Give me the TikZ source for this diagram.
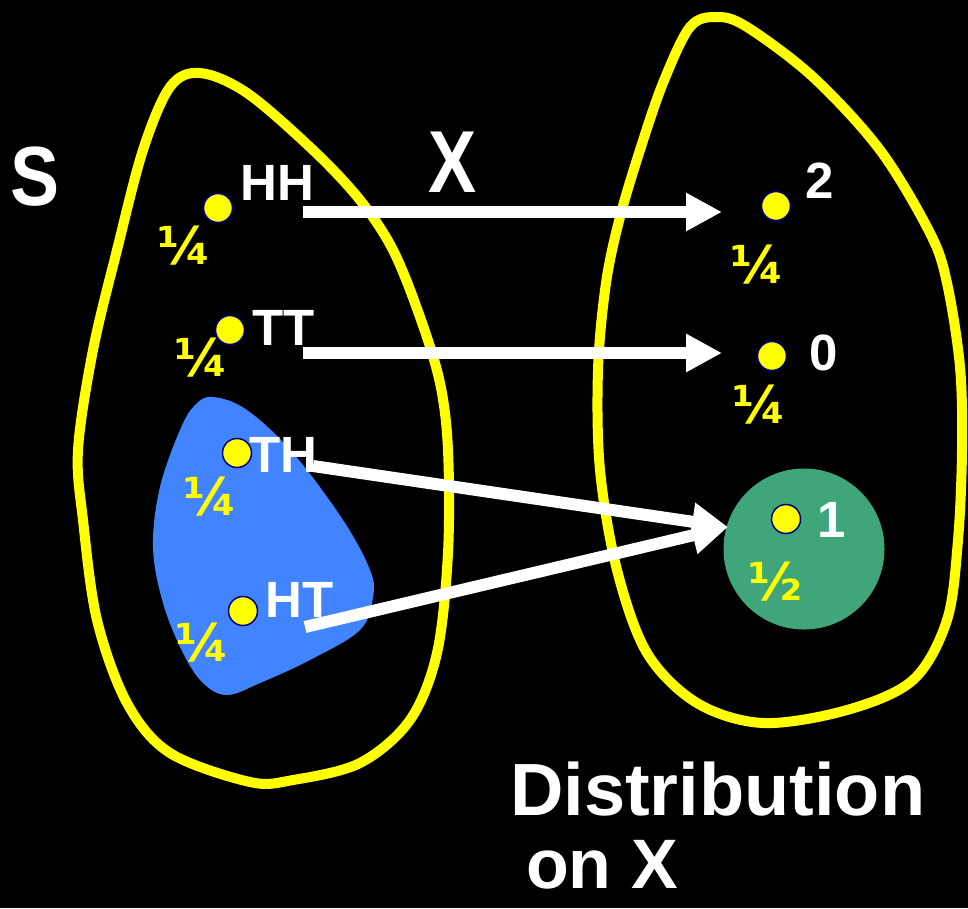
\documentclass[tikz,border=0pt]{standalone}
\usepackage{fontspec}
\setmainfont{Liberation Sans}
\newfontfamily\fracfont{DejaVu Sans}
\usetikzlibrary{arrows.meta}
\definecolor{ylw}{RGB}{255,255,0}
\definecolor{bluefill}{RGB}{66,132,255}
\definecolor{greenfill}{RGB}{62,166,122}
\definecolor{navy}{RGB}{0,0,128}
\tikzset{
  outline/.style={draw=ylw, line width=10pt},
  dot/.style={circle, fill=ylw, draw=navy, line width=1.5pt, minimum size=29pt, inner sep=0pt},
  lab/.style={anchor=base west, inner sep=0pt, text=white, font=\fontsize{51}{51}\selectfont\bfseries},
  frac/.style={inner sep=0pt, text=ylw, font=\fracfont\fontsize{52}{52}\selectfont\bfseries},
  big/.style={anchor=base west, inner sep=0pt, text=white, font=\fontsize{74}{74}\selectfont\bfseries},
  maparrow/.style={draw=white, line width=12pt, -{Triangle[length=36pt,width=36pt]}}
}
\begin{document}
\begin{tikzpicture}[x=1pt,y=-1pt]
\fill[black] (0,0) rectangle (968,908);
\useasboundingbox (0,0) rectangle (968,908);
% left set S
\draw[outline] plot[smooth cycle, tension=0.55] coordinates {
 (200,73) (247,93) (313,150) (360,200) (393,250) (420,317) (440,383) (448,450)
 (448,553) (437,653) (410,720) (360,763) (293,780) (250,782) (170,753) (127,703)
 (97,620) (83,520) (78,450) (93,350) (117,250) (143,150) (170,87)};
% right set
\draw[outline] plot[smooth cycle, tension=0.55] coordinates {
 (717,17) (747,27) (813,77) (880,150) (930,233) (947,283) (960,367) (962,450)
 (958,540) (947,620) (913,680) (847,710) (763,723) (697,703) (647,653) (617,570)
 (600,470) (598,370) (606,283) (620,217) (640,150) (663,83) (690,27)};
% blue event
\fill[bluefill] plot[smooth cycle, tension=0.6] coordinates {
 (213,397) (247,410) (293,453) (343,520) (370,570) (373,597) (360,630) (310,660)
 (260,683) (227,695) (203,683) (183,653) (163,603) (153,547) (160,487) (180,430) (195,405)};
% green event
\node[circle, fill=greenfill, minimum size=161pt, inner sep=0pt] (g) at (804,549) {};
% arrows
\coordinate (a1s) at (303,212); \coordinate (a1e) at (722,212);
\coordinate (a2s) at (303,353); \coordinate (a2e) at (722,353);
\coordinate (a3s) at (313,466); \coordinate (a3e) at (728,527);
\coordinate (a4s) at (305,627); \coordinate (a4e) at (728,527);
\draw[maparrow] (a1s) -- (a1e);
\draw[maparrow] (a2s) -- (a2e);
\draw[maparrow] (a3s) -- (a3e);
\draw[maparrow] (a4s) -- (a4e);
% dots
\node[dot] (hh) at (218,208) {};
\node[dot] (tt) at (230,330) {};
\node[dot] (th) at (237,453) {};
\node[dot] (ht) at (243,611) {};
\node[dot] (v2) at (776,206) {};
\node[dot] (v0) at (772,356) {};
\node[dot] (v1) at (786,519) {};
% labels
\node[lab] (lhh) at (240,200) {HH};
\node[lab] (ltt) at (252,345) {TT};
\node[lab] (lth) at (249,472) {TH};
\node[lab] (lht) at (265,617) {HT};
\node[lab] (l2) at (805,198) {2};
\node[lab] (l0) at (809,370) {0};
\node[lab] (l1) at (817,537) {1};
% probabilities
\node[frac] (phh) at (184,246) {¼};
\node[frac] (ptt) at (201,358) {¼};
\node[frac] (pth) at (210,497) {¼};
\node[frac] (pht) at (202,643) {¼};
\node[frac] (p2) at (757,265) {¼};
\node[frac] (p0) at (759,405) {¼};
\node[frac] (p1) at (775,582) {½};
% titles
\node[anchor=base west, inner sep=0pt, text=white, font=\fontsize{84}{84}\selectfont\bfseries, xscale=0.875] (S) at (10,205) {S};
\node[anchor=base west, inner sep=0pt, text=white, font=\fontsize{88}{88}\selectfont\bfseries, xscale=0.82] (X) at (428,192) {X};
\node[big] (d1) at (510,815) {Distribution};
\node[big, font=\fontsize{70}{70}\selectfont\bfseries] (d2) at (526,888) {on X};
\end{tikzpicture}
\end{document}
